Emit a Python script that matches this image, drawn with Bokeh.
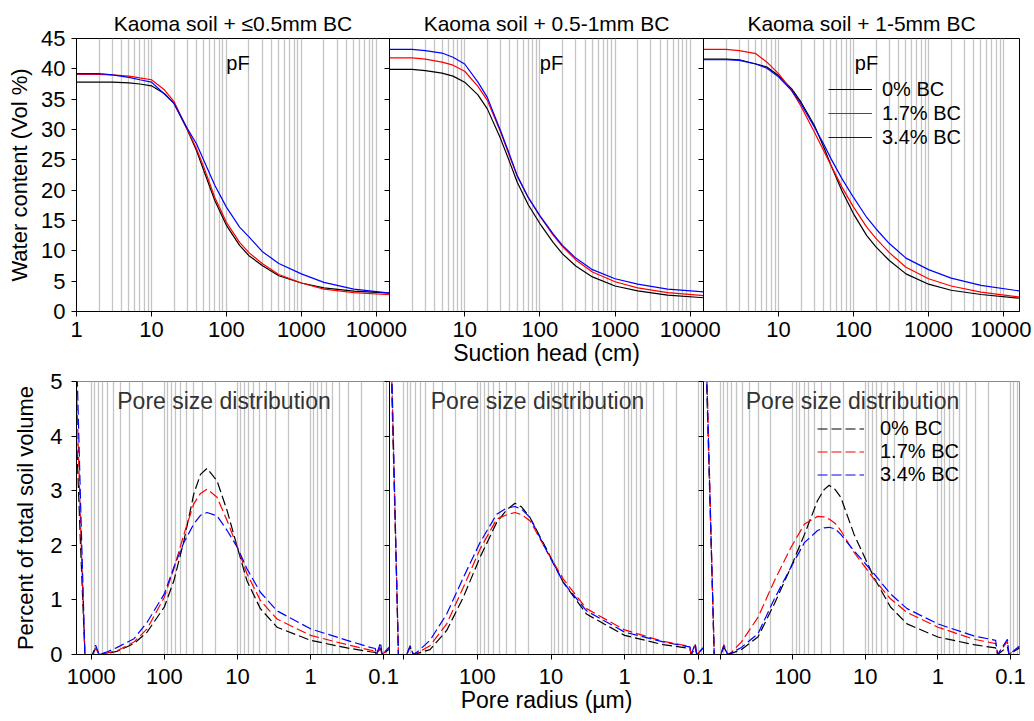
from bokeh.plotting import figure
from bokeh.layouts import row, column
from bokeh.models import Range1d, FixedTicker, Label, Legend, LegendItem
from bokeh.embed import file_html
from bokeh.resources import INLINE

FONT = "Liberation Sans"

# ---------------- data ----------------
series_names = ["0% BC", "1.7% BC", "3.4% BC"]
series_colors = ["#000000", "#ff0000", "#0000ff"]
panel_titles = ["Kaoma soil + \u22640.5mm BC", "Kaoma soil + 0.5-1mm BC", "Kaoma soil + 1-5mm BC"]

# water retention (top row): suction head (cm) vs water content (Vol %)
suction_head = [1, 2, 3, 5, 7, 10, 15, 20, 30, 40, 50, 70, 100, 150, 200, 300, 500, 1000, 2000, 5000, 16000]

wc1_0 = [37.8, 37.8, 37.8, 37.7, 37.5, 37.2, 35.9, 34.3, 30.0, 26.5, 23.2, 18.3, 14.2, 10.9, 9.2, 7.6, 5.9, 4.7, 3.9, 3.35, 3.0]
wc1_17 = [39.1, 39.1, 39.0, 38.8, 38.5, 38.2, 36.5, 34.6, 30.1, 26.8, 23.8, 18.8, 14.7, 11.4, 9.7, 7.9, 6.1, 4.7, 3.7, 3.1, 2.75]
wc1_34 = [39.2, 39.2, 39.0, 38.6, 38.2, 37.8, 35.8, 34.3, 30.2, 27.6, 24.9, 20.8, 17.2, 13.9, 12.3, 9.9, 7.9, 6.2, 4.8, 3.7, 3.0]

wc2_0 = [39.9, 39.9, 39.7, 39.3, 38.8, 37.8, 35.7, 33.4, 28.5, 24.5, 21.3, 17.6, 14.5, 11.4, 9.5, 7.5, 5.7, 4.2, 3.4, 2.7, 2.25]
wc2_17 = [41.8, 41.8, 41.6, 41.1, 40.6, 39.6, 37.1, 34.8, 29.6, 25.4, 22.3, 18.8, 15.7, 12.6, 10.7, 8.5, 6.5, 4.9, 3.9, 3.1, 2.6]
wc2_34 = [43.2, 43.2, 43.0, 42.6, 41.9, 40.8, 37.8, 35.3, 29.8, 25.7, 22.4, 18.8, 15.8, 12.8, 10.9, 8.8, 6.9, 5.4, 4.5, 3.7, 3.2]

wc3_0 = [41.6, 41.6, 41.5, 40.8, 40.3, 38.9, 36.7, 34.5, 30.7, 27.1, 24.1, 19.9, 16.1, 12.5, 10.6, 8.4, 6.2, 4.5, 3.5, 2.8, 2.2]
wc3_17 = [43.2, 43.2, 43.0, 42.5, 41.1, 39.2, 36.4, 33.8, 29.6, 26.5, 24.1, 20.5, 17.2, 13.9, 12.0, 9.7, 7.3, 5.4, 4.2, 3.2, 2.4]
wc3_34 = [41.5, 41.5, 41.4, 40.8, 40.1, 38.7, 36.4, 34.2, 30.4, 27.6, 25.2, 21.9, 18.8, 15.5, 13.6, 11.2, 8.8, 6.9, 5.5, 4.3, 3.4]

# pore size distribution (bottom row): pore radius (um) vs percent of total soil volume
radius1 = [1590, 1400, 1220, 1050, 960, 870, 780, 700, 600, 440, 260, 172, 100, 74, 54, 39.5, 32, 26, 19,
           13.8, 10, 7.4, 4.85, 2.87, 1.0, 0.316, 0.152, 0.13, 0.125, 0.11, 0.105, 0.083]
psd1_0 = [4.0, 2.0, 0.0, 0.0, 0.0, 0.12, 0.0, 0.01, 0.02, 0.06, 0.2, 0.41, 0.87, 1.35, 2.08, 2.94, 3.3, 3.41, 3.18,
          2.63, 1.96, 1.35, 0.84, 0.5, 0.26, 0.12, 0.05, 0.04, 0.0, 0.12, 0.0, 0.1]
psd1_17 = [4.9, 2.4, 0.0, 0.0, 0.0, 0.12, 0.0, 0.01, 0.03, 0.07, 0.23, 0.47, 1.05, 1.57, 2.2, 2.76, 2.95, 3.03, 2.88,
           2.45, 1.96, 1.48, 0.99, 0.65, 0.35, 0.18, 0.08, 0.07, 0.0, 0.16, 0.0, 0.12]
psd1_34 = [5.6, 2.8, 0.0, 0.0, 0.0, 0.17, 0.0, 0.02, 0.05, 0.13, 0.29, 0.59, 1.11, 1.6, 2.05, 2.39, 2.55, 2.6, 2.54,
           2.27, 1.96, 1.57, 1.14, 0.8, 0.47, 0.26, 0.13, 0.11, 0.0, 0.22, 0.0, 0.14]

radius2 = [1560, 1180, 1000, 910, 820, 740, 650, 440, 261, 155, 92, 54.6, 40, 30.8, 25, 19.3, 11.5, 6.8, 3.3,
           1.0, 0.3, 0.144, 0.13, 0.125, 0.11, 0.105, 0.085]
psd2_0 = [6.5, 0.0, 0.0, 0.0, 0.14, 0.0, 0.02, 0.09, 0.44, 1.05, 1.78, 2.42, 2.65, 2.77, 2.7, 2.51, 1.93, 1.32, 0.74,
          0.35, 0.18, 0.12, 0.1, 0.0, 0.12, 0.0, 0.08]
psd2_17 = [6.8, 0.0, 0.0, 0.0, 0.14, 0.0, 0.03, 0.16, 0.56, 1.23, 1.93, 2.48, 2.56, 2.6, 2.56, 2.45, 1.9, 1.38, 0.84,
           0.45, 0.24, 0.16, 0.14, 0.0, 0.18, 0.0, 0.12]
psd2_34 = [7.0, 0.0, 0.0, 0.0, 0.16, 0.0, 0.05, 0.26, 0.74, 1.41, 2.05, 2.57, 2.68, 2.71, 2.66, 2.51, 1.9, 1.32, 0.8,
           0.41, 0.23, 0.15, 0.14, 0.0, 0.2, 0.0, 0.13]

radius3 = [1700, 1210, 1000, 980, 890, 790, 700, 510, 302, 179, 106, 69, 45.5, 37, 31.5, 26, 21.8, 14.3, 7.6,
           4.5, 2.66, 1.0, 0.32, 0.16, 0.15, 0.11, 0.105, 0.075]
psd3_0 = [7.0, 0.0, 0.0, 0.0, 0.14, 0.0, 0.02, 0.09, 0.32, 0.93, 1.6, 2.2, 2.82, 3.02, 3.1, 3.02, 2.88, 2.2, 1.41,
          0.87, 0.56, 0.32, 0.18, 0.12, 0.0, 0.14, 0.0, 0.12]
psd3_17 = [7.5, 0.0, 0.0, 0.0, 0.18, 0.0, 0.04, 0.23, 0.68, 1.35, 1.96, 2.39, 2.53, 2.52, 2.48, 2.4, 2.27, 1.87, 1.38,
           1.02, 0.77, 0.5, 0.28, 0.2, 0.0, 0.24, 0.0, 0.15]
psd3_34 = [7.3, 0.0, 0.0, 0.0, 0.16, 0.0, 0.03, 0.13, 0.38, 1.02, 1.6, 2.05, 2.27, 2.32, 2.33, 2.3, 2.2, 1.9, 1.48,
           1.11, 0.84, 0.56, 0.34, 0.26, 0.0, 0.28, 0.0, 0.15]

# axes / ticks
top_y_ticks = [0, 5, 10, 15, 20, 25, 30, 35, 40, 45]
bottom_y_ticks = [0, 1, 2, 3, 4, 5]
top_x_ticks = [[1, 10, 100, 1000, 10000], [10, 100, 1000, 10000], [10, 100, 1000, 10000]]
top_x_labels = [["1", "10", "100", "1000", "10000"],
                ["10", "100", "1000", "10000"],
                ["10", "100", "1000", "10000"]]
top_x_unlabelled = [[], [], []]
bottom_x_ticks = [[1000, 100, 10, 1, 0.1], [100, 10, 1, 0.1], [100, 10, 1, 0.1]]
bottom_x_labels = [["1000", "100", "10", "1", "0.1"],
                   ["100", "10", "1", "0.1"],
                   ["100", "10", "1", "0.1"]]
bottom_x_unlabelled = [[], [1000], [1000]]
top_x_ranges = [(1, 15000), (1, 15000), (1, 16300)]
bottom_x_ranges = [(1590, 0.083), (1560, 0.085), (1700, 0.075)]

top_grid = [m * 10.0 ** e for e in range(0, 5) for m in range(1, 10)]
bottom_grid = [m * 10.0 ** e for e in range(-2, 4) for m in range(1, 10)]

top_series = [[wc1_0, wc1_17, wc1_34], [wc2_0, wc2_17, wc2_34], [wc3_0, wc3_17, wc3_34]]
bottom_radius = [radius1, radius2, radius3]
bottom_series = [[psd1_0, psd1_17, psd1_34], [psd2_0, psd2_17, psd2_34], [psd3_0, psd3_17, psd3_34]]

# ---------------- layout geometry ----------------
frame_widths = [313, 314, 316]
left_borders = [76, 25, 25]
right_borders = [25, 25, 12]
left_margins = [0, -50, -50]
FRAME_H = 273
GRID_COLOR = "#c4c4c4"


def style_axes(p, i, yticks, ylabel, xticks, xminor, xlabels, xlabel, grid):
    xa = p.xaxis[0]
    ya = p.yaxis[0]
    for ax in (xa, ya):
        ax.axis_line_color = "black"
        ax.axis_line_width = 1
        ax.major_tick_line_color = "black"
        ax.minor_tick_line_color = "black"
        ax.major_tick_in = 0
        ax.major_tick_out = 5
        ax.minor_tick_in = 0
        ax.minor_tick_out = 5
        ax.major_label_text_font = FONT
        ax.major_label_text_font_size = "22px"
        ax.major_label_text_color = "black"
        ax.axis_label_text_font = FONT
        ax.axis_label_text_font_size = "23px"
        ax.axis_label_text_font_style = "normal"
        ax.axis_label_text_color = "black"
    xa.ticker = FixedTicker(ticks=xticks, minor_ticks=xminor)
    xa.major_label_overrides = dict(zip(xticks, xlabels))
    ya.ticker = FixedTicker(ticks=yticks)
    if i == 0:
        ya.axis_label = ylabel
        ya.axis_label_text_font_size = "22px"
        ya.major_label_standoff = 6
        ya.axis_label_standoff = 6
    else:
        ya.major_label_text_font_size = "0px"
        ya.major_label_text_color = None
        ya.major_label_text_alpha = 0
        ya.major_label_standoff = 0
    if xlabel:
        xa.axis_label = xlabel
    p.xgrid[0].ticker = FixedTicker(ticks=grid)
    p.xgrid[0].grid_line_color = GRID_COLOR
    p.xgrid[0].grid_line_width = 1.3
    p.ygrid[0].grid_line_color = None


def add_legend(p, renderers, glyph_w, row_h, standoff, loc):
    items = [LegendItem(label=series_names[s], renderers=[renderers[s]]) for s in range(3)]
    lg = Legend(items=items, location=loc, background_fill_alpha=0, border_line_color=None,
                label_text_font=FONT, label_text_font_size="20px", label_text_color="black",
                glyph_width=glyph_w, glyph_height=row_h, label_height=row_h, spacing=0,
                padding=0, margin=0, label_standoff=standoff)
    p.add_layout(lg)


top_figs = []
for i in range(3):
    p = figure(frame_width=frame_widths[i], frame_height=FRAME_H, x_axis_type="log",
               x_range=Range1d(*top_x_ranges[i]), y_range=Range1d(0, 45),
               output_backend="svg", toolbar_location=None, title=panel_titles[i],
               min_border_left=left_borders[i], min_border_right=right_borders[i],
               min_border_top=38, min_border_bottom=65,
               border_fill_color=None, background_fill_color=None,
               outline_line_color="black", margin=(0, 0, 0, left_margins[i]))
    p.title.text_font = FONT
    p.title.text_font_size = "21px"
    p.title.text_font_style = "normal"
    p.title.text_color = "black"
    p.title.align = "center"
    p.title.standoff = 7
    style_axes(p, i, top_y_ticks, "Water content (Vol %)", top_x_ticks[i], top_x_unlabelled[i],
               top_x_labels[i], "Suction head (cm)" if i == 1 else None, top_grid)
    p.xaxis[0].major_label_standoff = 5
    p.xaxis[0].axis_label_standoff = 0
    rs = []
    for s in range(3):
        rs.append(p.line(suction_head, top_series[i][s], line_color=series_colors[s], line_width=1.2))
    p.add_layout(Label(x=frame_widths[i] / 2 + 5, y=249, x_units="screen", y_units="screen", text="pF",
                       text_align="center", text_baseline="alphabetic", text_font=FONT,
                       text_font_size="20px", text_color="black"))
    if i == 2:
        add_legend(p, rs, 44, 24, 10, (125, 162))
    top_figs.append(p)

bottom_figs = []
for i in range(3):
    p = figure(frame_width=frame_widths[i], frame_height=FRAME_H, x_axis_type="log",
               x_range=Range1d(*bottom_x_ranges[i]), y_range=Range1d(0, 5),
               output_backend="svg", toolbar_location=None,
               min_border_left=left_borders[i], min_border_right=right_borders[i],
               min_border_top=15, min_border_bottom=64,
               border_fill_color=None, background_fill_color=None,
               outline_line_color="#8a8a8a", margin=(-10, 0, 0, left_margins[i]))
    style_axes(p, i, bottom_y_ticks, "Percent of total soil volume", bottom_x_ticks[i], bottom_x_unlabelled[i],
               bottom_x_labels[i], "Pore radius (\u00b5m)" if i == 1 else None, bottom_grid)
    p.xaxis[0].major_label_standoff = 9
    p.xaxis[0].axis_label_standoff = 0
    if i == 0:
        p.yaxis[0].major_label_standoff = 9
        p.yaxis[0].axis_label_standoff = 9
    rs = []
    for s in range(3):
        rs.append(p.line(bottom_radius[i], bottom_series[i][s], line_color=series_colors[s], line_width=1.2,
                         line_dash="10 4"))
    p.add_layout(Label(x=frame_widths[i] / 2 - 9, y=254, x_units="screen", y_units="screen",
                       text="Pore size distribution", text_align="center", text_baseline="alphabetic",
                       text_font=FONT, text_font_size="23px", text_color="#333333"))
    if i == 2:
        add_legend(p, rs, 47, 23, 16, (114, 168))
    bottom_figs.append(p)

layout = column(row(*top_figs, spacing=0), row(*bottom_figs, spacing=0), spacing=0)

open("out.html", "w").write(file_html(layout, INLINE))
